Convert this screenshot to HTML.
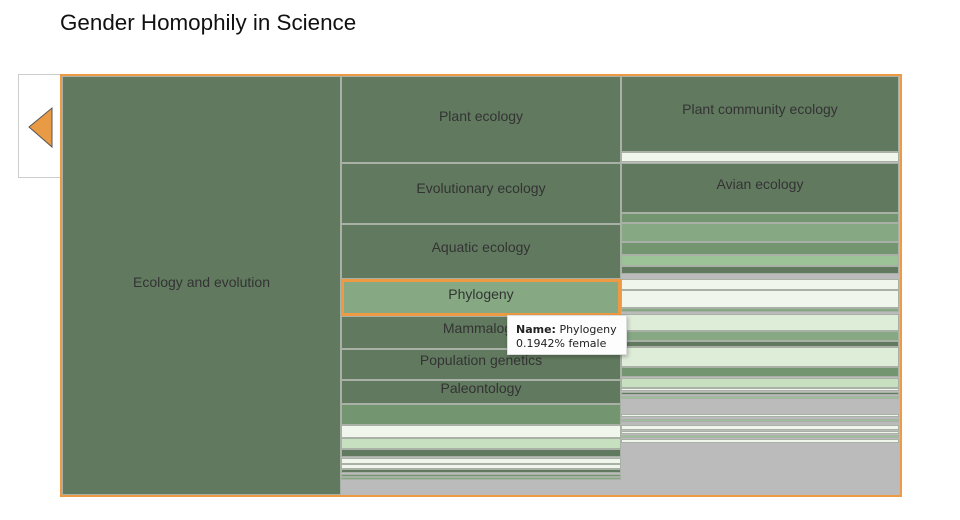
<!DOCTYPE html>
<html><head><style>
body{margin:0;width:960px;height:520px;background:#fff;font-family:"Liberation Sans",sans-serif;position:relative;overflow:hidden}
.t{position:absolute;left:60px;top:10px;font-size:22.4px;color:#111}
.c{position:absolute;box-sizing:border-box;border:1px solid #a9b0a6;color:#333;font-size:14px;text-align:center}
.d{background:#617a5f}.m{background:#739570}.l{background:#86a983}.g{background:#9cc298}.p{background:#deedd8}.q{background:#c7e0c0}.w{background:#f0f6ec}
</style></head><body>
<div class="t">Gender Homophily in Science</div>
<div style="position:absolute;left:18px;top:74px;width:42px;height:104px;box-sizing:border-box;border:1px solid #ccc;border-right:none;background:#fff"></div>
<svg style="position:absolute;left:0;top:0" width="60" height="200"><polygon points="29,127 52,108 52,147" fill="#e89a44" stroke="#555" stroke-width="1"/></svg>
<div style="position:absolute;left:60px;top:74px;width:842px;height:423px;box-sizing:border-box;border:2px solid #ee9a44;background:#bbb"></div>
<div class="c d" style="left:62px;top:76px;width:279px;height:419px;line-height:410px">Ecology and evolution</div>
<div class="c d" style="left:341px;top:76px;width:280px;height:87px;line-height:78px">Plant ecology</div>
<div class="c d" style="left:341px;top:163px;width:280px;height:61px;line-height:48px">Evolutionary ecology</div>
<div class="c d" style="left:341px;top:224px;width:280px;height:55px;line-height:44px">Aquatic ecology</div>
<div class="c d" style="left:341px;top:316px;width:280px;height:33px;line-height:22px">Mammalogy</div>
<div class="c d" style="left:341px;top:349px;width:280px;height:31px;line-height:20px">Population genetics</div>
<div class="c d" style="left:341px;top:380px;width:280px;height:24px;line-height:14px">Paleontology</div>
<div class="c m" style="left:341px;top:404px;width:280px;height:21px"></div>
<div class="c w" style="left:341px;top:425px;width:280px;height:13px"></div>
<div class="c q" style="left:341px;top:438px;width:280px;height:11px"></div>
<div class="c d" style="left:341px;top:449px;width:280px;height:8px"></div>
<div class="c w" style="left:341px;top:458px;width:280px;height:6px"></div>
<div class="c w" style="left:341px;top:464px;width:280px;height:5px"></div>
<div class="c d" style="left:341px;top:469px;width:280px;height:4px"></div>
<div class="c m" style="left:341px;top:474px;width:280px;height:3px"></div>
<div class="c l" style="left:341px;top:477px;width:280px;height:3px"></div>
<div class="c" style="left:341px;top:279px;width:280px;height:37px;line-height:24px;background:#86a983;border:3px solid #ee9a44">Phylogeny</div>
<div class="c d" style="left:621px;top:76px;width:278px;height:76px;line-height:64px">Plant community ecology</div>
<div class="c w" style="left:621px;top:152px;width:278px;height:10px"></div>
<div class="c d" style="left:621px;top:163px;width:278px;height:50px;line-height:40px">Avian ecology</div>
<div class="c m" style="left:621px;top:213px;width:278px;height:10px"></div>
<div class="c l" style="left:621px;top:223px;width:278px;height:19px"></div>
<div class="c m" style="left:621px;top:242px;width:278px;height:13px"></div>
<div class="c g" style="left:621px;top:255px;width:278px;height:11px"></div>
<div class="c d" style="left:621px;top:266px;width:278px;height:8px"></div>
<div class="c w" style="left:621px;top:279px;width:278px;height:11px"></div>
<div class="c w" style="left:621px;top:290px;width:278px;height:18px"></div>
<div class="c l" style="left:621px;top:308px;width:278px;height:4px"></div>
<div class="c p" style="left:621px;top:314px;width:278px;height:17px"></div>
<div class="c l" style="left:621px;top:331px;width:278px;height:10px"></div>
<div class="c d" style="left:621px;top:341px;width:278px;height:6px"></div>
<div class="c p" style="left:621px;top:347px;width:278px;height:20px"></div>
<div class="c m" style="left:621px;top:367px;width:278px;height:10px"></div>
<div class="c q" style="left:621px;top:378px;width:278px;height:10px"></div>
<div class="c w" style="left:621px;top:388px;width:278px;height:3px"></div>
<div class="c d" style="left:621px;top:392px;width:278px;height:3px"></div>
<div class="c g" style="left:621px;top:396px;width:278px;height:3px"></div>
<div class="c w" style="left:621px;top:414px;width:278px;height:3px"></div>
<div class="c g" style="left:621px;top:419px;width:278px;height:3px"></div>
<div class="c w" style="left:621px;top:425px;width:278px;height:5px"></div>
<div class="c w" style="left:621px;top:431px;width:278px;height:3px"></div>
<div class="c g" style="left:621px;top:435px;width:278px;height:3px"></div>
<div class="c w" style="left:621px;top:439px;width:278px;height:4px"></div>
<div style="position:absolute;left:507px;top:315px;width:120px;height:40px;box-sizing:border-box;background:#fdfdfd;border:1px solid #ddd;box-shadow:1px 2px 4px rgba(0,0,0,.25);font-family:'DejaVu Sans',sans-serif;font-size:11px;color:#222;padding:7px 8px;line-height:14px"><b>Name:</b> Phylogeny<br>0.1942% female</div>
</body></html>
